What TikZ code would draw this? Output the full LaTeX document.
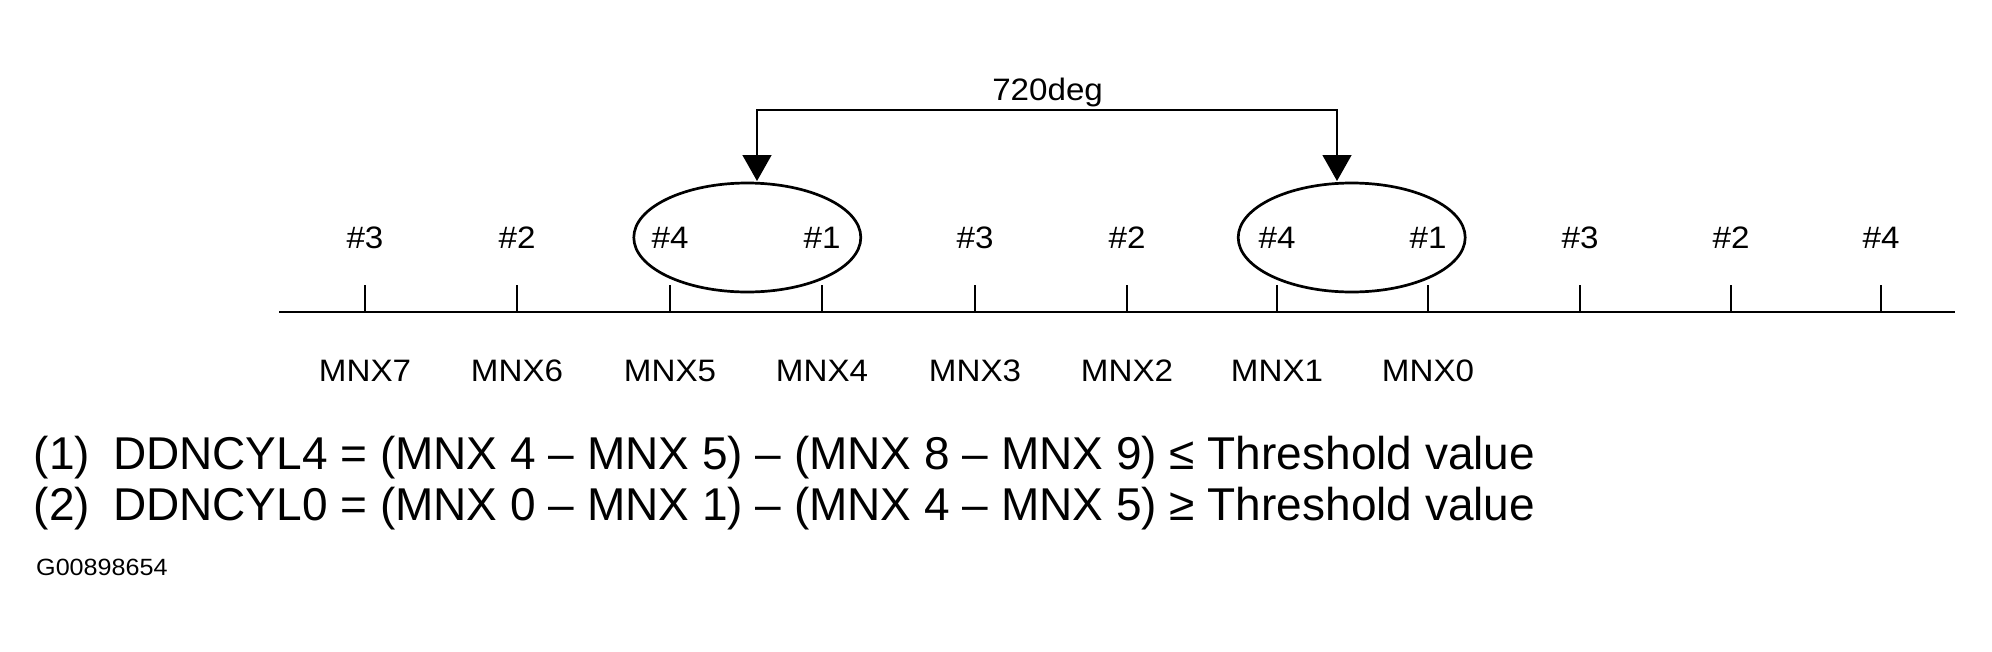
\documentclass[tikz,border=0pt]{standalone}
\usepackage{fontspec}
\setmainfont{Liberation Sans}
\newfontfamily\lblfont[FakeStretch=1.07]{Liberation Sans}
\usetikzlibrary{arrows.meta,shapes.geometric}
\begin{document}
\begin{tikzpicture}[x=1pt,y=-1pt,
  axisline/.style={line width=2pt},
  tickline/.style={line width=1.3pt},
  ring/.style={ellipse, draw, line width=2.7pt, minimum width=227pt, minimum height=109pt, inner sep=0pt},
  cyl/.style={font=\lblfont\fontsize{31}{31}\selectfont, inner sep=0pt, anchor=base},
  dimarrow/.style={line width=1.5pt, {Triangle[width=29pt,length=26pt]}-{Triangle[width=29pt,length=26pt]}},
  formula/.style={font=\fontsize{46}{46}\selectfont, inner sep=0pt, anchor=base west},
  code/.style={font=\lblfont\fontsize{23.5}{23.5}\selectfont, inner sep=0pt, anchor=base west}]
\useasboundingbox (0,0) rectangle (1992,651);
% axis
\coordinate (axL) at (279,312);
\coordinate (axR) at (1955,312);
\draw[axisline] (axL) -- (axR);
% ticks and cylinder labels
\foreach \x/\c [count=\i] in {365/\#3,517/\#2,670/\#4,822/\#1,975/\#3,1127/\#2,1277/\#4,1428/\#1,1580/\#3,1731/\#2,1881/\#4}{
  \coordinate (t\i) at (\x,312);
  \draw[tickline] (t\i) -- ++(0,-27);
  \node[cyl] (c\i) at (\x,248.3) {\c};
}
% MNX labels
\foreach \x/\m [count=\i] in {365/MNX7,517/MNX6,670/MNX5,822/MNX4,975/MNX3,1127/MNX2,1277/MNX1,1428/MNX0}{
  \node[cyl] (m\i) at (\x,381.5) {\m};
}
% rings
\node[ring] (e1) at (747.3,237.5) {};
\node[ring] (e2) at (1351.7,237.5) {};
% 720deg arrow
\node[cyl] (deg) at (1047.6,100) {720deg};
\coordinate (a1) at (757,181);
\coordinate (a2) at (1337,181);
\coordinate (mid) at (1047.6,110);
\draw[dimarrow] (a1) |- (mid) -| (a2);
% formulas
\node[formula] (f1) at (33.6,469.5) {(1)\hspace{23pt}DDNCYL4 = (MNX 4 – MNX 5) – (MNX 8 – MNX 9) ≤ Threshold value};
\node[formula] (f2) at (33.6,520.5) {(2)\hspace{23pt}DDNCYL0 = (MNX 0 – MNX 1) – (MNX 4 – MNX 5) ≥ Threshold value};
\node[code] (g) at (36,575.7) {G00898654};
\end{tikzpicture}
\end{document}
